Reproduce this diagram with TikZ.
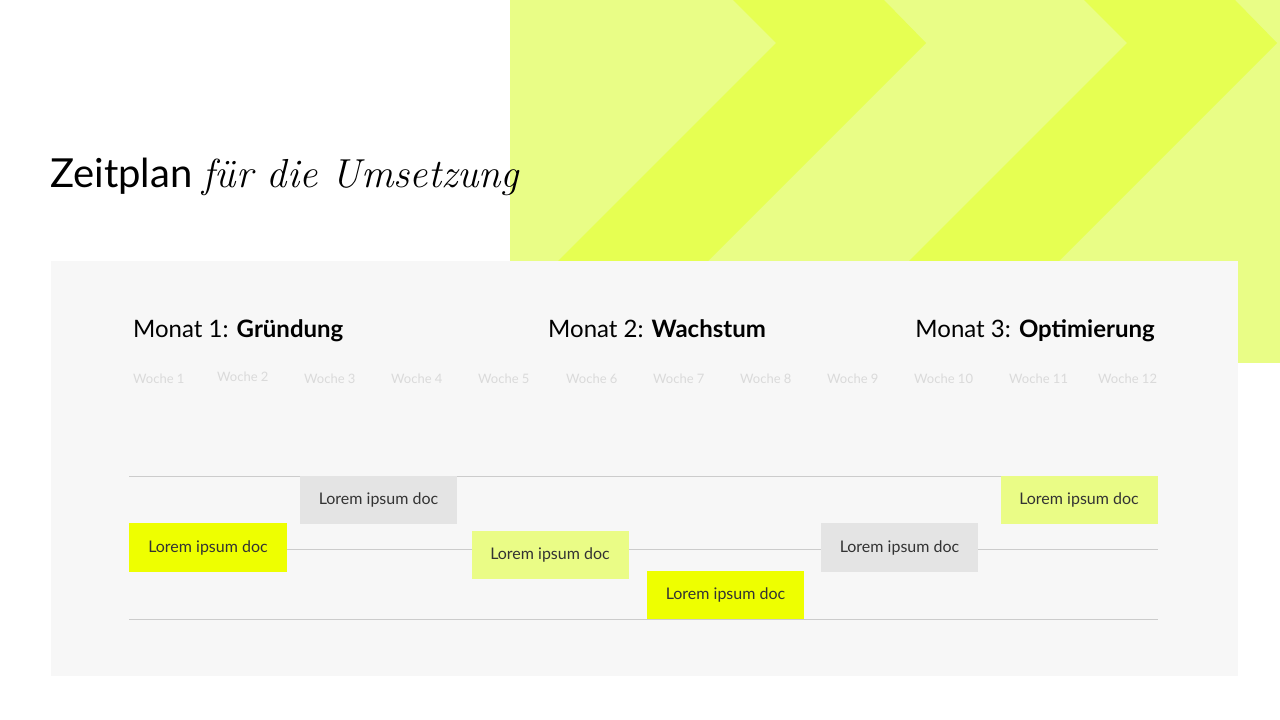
\documentclass[tikz,border=0pt]{standalone}
\usepackage{fontspec}
\setsansfont{Lato}
\definecolor{ylight}{HTML}{E9FD86}
\definecolor{ydark}{HTML}{E6FF52}
\definecolor{panel}{HTML}{F7F7F7}
\definecolor{ybright}{HTML}{EEFF00}
\definecolor{boxgrey}{HTML}{E4E4E4}
\definecolor{boxlight}{HTML}{EAFC86}
\definecolor{rule}{HTML}{CCCCCC}
\definecolor{weekgrey}{HTML}{DADADA}
\definecolor{txtgrey}{HTML}{333333}
\begin{document}
\begin{tikzpicture}[x=1pt,y=-1pt,
  lorem/.style={minimum width=157pt, minimum height=48pt, inner sep=0pt,
    font=\sffamily\fontsize{16}{19}\selectfont, text=txtgrey},
  week/.style={anchor=base west, inner sep=0pt, text=weekgrey,
    font=\sffamily\fontsize{13}{15}\selectfont},
  month/.style={anchor=base west, inner sep=0pt, text=black,
    font=\sffamily\fontsize{24}{28}\selectfont},
  gridline/.style={draw=rule, line width=0.8pt}]
\useasboundingbox (0,0) rectangle (1280,720);
\fill[white] (0,0) rectangle (1280,720);
% yellow panel with chevrons
\begin{scope}
  \clip (510,0) rectangle (1280,363);
  \fill[ylight] (510,0) rectangle (1280,363);
  \fill[ydark] (733,0) -- (884,0) -- (926,43) -- (606,363) -- (456,363) -- (776,43) -- cycle;
  \fill[ydark] (1084,0) -- (1235,0) -- (1277,43) -- (957,363) -- (807,363) -- (1127,43) -- cycle;
\end{scope}
% title
\node[anchor=base west, inner sep=0pt] (title) at (50,187)
  {\sffamily\fontsize{40}{46}\selectfont Zeitplan \rmfamily\itshape\fontsize{40.5}{46}\selectfont für die Umsetzung};
% grey panel
\fill[panel] (51,261) rectangle (1238,676);
% months
\node[month] (m1) at (133,337) {Monat 1: \textbf{Gründung}};
\node[month] (m2) at (548,337) {Monat 2: \textbf{Wachstum}};
\node[month, anchor=base east] (m3) at (1155,337) {Monat 3: \textbf{Optimierung}};
% weeks
\node[week] (w1) at (133,383) {Woche 1};
\node[week] (w2) at (217,381) {Woche 2};
\node[week] (w3) at (304,383) {Woche 3};
\node[week] (w4) at (391,383) {Woche 4};
\node[week] (w5) at (478,383) {Woche 5};
\node[week] (w6) at (566,383) {Woche 6};
\node[week] (w7) at (653,383) {Woche 7};
\node[week] (w8) at (740,383) {Woche 8};
\node[week] (w9) at (827,383) {Woche 9};
\node[week] (w10) at (914,383) {Woche 10};
\node[week] (w11) at (1009,383) {Woche 11};
\node[week] (w12) at (1098,383) {Woche 12};
% grid lines
\coordinate (l1a) at (129,476); \coordinate (l1b) at (1158,476);
\coordinate (l2a) at (129,549); \coordinate (l2b) at (1158,549);
\coordinate (l3a) at (129,619); \coordinate (l3b) at (1158,619);
\draw[gridline] (l1a) -- (l1b);
\draw[gridline] (l2a) -- (l2b);
\draw[gridline] (l3a) -- (l3b);
% boxes
\node[lorem, fill=ybright, minimum width=158pt, minimum height=49pt] (b1) at (208,547.5) {Lorem ipsum doc};
\node[lorem, fill=boxgrey] (b2) at (378.5,500) {Lorem ipsum doc};
\node[lorem, fill=boxlight] (b3) at (550,555) {Lorem ipsum doc};
\node[lorem, fill=ybright] (b4) at (725.5,595) {Lorem ipsum doc};
\node[lorem, fill=boxgrey, minimum height=49pt] (b5) at (899.5,547.5) {Lorem ipsum doc};
\node[lorem, fill=boxlight] (b6) at (1079,500) {Lorem ipsum doc};
\end{tikzpicture}
\end{document}
